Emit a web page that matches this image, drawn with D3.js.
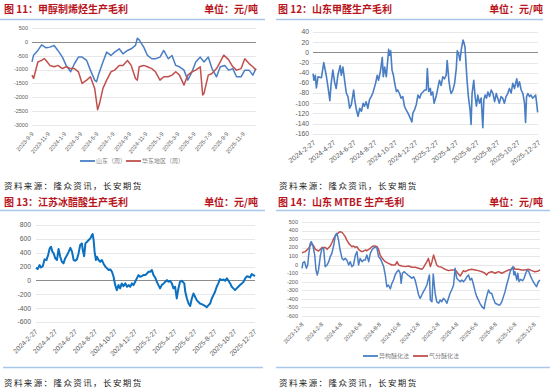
<!DOCTYPE html>
<html>
<head>
<meta charset="utf-8">
<script src="https://cdn.jsdelivr.net/npm/d3@7"></script>
<style>
body { margin: 0; background: #fff; }
text { font-family: "Liberation Sans", Arial, sans-serif; }
.cn { font-family: "Noto Sans CJK SC", sans-serif; }
</style>
</head>
<body>
<script>
// ---- chart 11: 甲醇制烯烃生产毛利 (weekly) ----
const mtoTicks = ["2023-9-9","2023-11-9","2024-1-9","2024-3-9","2024-5-9","2024-7-9","2024-9-9","2024-11-9","2025-1-9","2025-3-9","2025-5-9","2025-7-9","2025-9-9","2025-11-9"];
const mtoShandong = [
["2023-09-09",-720],["2023-09-15",-480],["2023-10-01",-310],["2023-10-15",-110],["2023-11-01",-215],["2023-11-15",-190],
["2023-12-01",-130],["2023-12-15",-310],["2024-01-01",-550],["2024-01-15",-850],["2024-02-01",-1080],["2024-02-15",-790],
["2024-03-01",-550],["2024-03-15",-550],["2024-04-01",-670],["2024-04-15",-1020],["2024-05-01",-1380],["2024-05-08",-1440],
["2024-05-15",-1200],["2024-06-01",-725],["2024-06-15",-370],["2024-07-01",-490],["2024-07-15",-370],["2024-08-01",-250],
["2024-08-15",-430],["2024-09-01",-310],["2024-09-15",-250],["2024-10-01",-130],["2024-10-08",130],["2024-10-15",70],
["2024-11-01",-190],["2024-11-15",-490],["2024-12-01",-610],["2024-12-15",-610],["2025-01-01",-550],["2025-01-15",-310],
["2025-02-01",-610],["2025-02-15",-490],["2025-03-01",-850],["2025-03-15",-900],["2025-04-01",-1020],["2025-04-15",-1380],
["2025-05-01",-1080],["2025-05-15",-725],["2025-06-01",-550],["2025-06-15",-725],["2025-07-01",-550],["2025-07-15",-965],
["2025-08-01",-1260],["2025-08-15",-900],["2025-09-01",-850],["2025-09-15",-1020],["2025-10-01",-965],["2025-10-15",-1260],
["2025-11-01",-1260],["2025-11-15",-1020],["2025-12-01",-1020],["2025-12-15",-1200],["2025-12-27",-965]
];
const mtoHuadong = [
["2023-09-09",-1200],["2023-09-15",-1320],["2023-10-01",-725],["2023-10-15",-670],["2023-10-25",-600],["2023-11-01",-670],
["2023-11-15",-850],["2023-12-01",-900],["2023-12-15",-850],["2024-01-01",-965],["2024-01-15",-900],["2024-02-01",-965],
["2024-02-15",-965],["2024-03-01",-1080],["2024-03-15",-1500],["2024-04-01",-1380],["2024-04-15",-1260],["2024-05-01",-1680],
["2024-05-12",-2450],["2024-05-20",-2200],["2024-06-01",-1680],["2024-06-15",-1380],["2024-07-01",-1080],["2024-07-15",-1020],
["2024-08-01",-850],["2024-08-15",-850],["2024-09-01",-670],["2024-09-15",-850],["2024-10-01",-1320],["2024-10-08",-1380],
["2024-10-15",-900],["2024-11-01",-850],["2024-11-15",-900],["2024-12-01",-965],["2024-12-15",-1080],["2025-01-01",-1380],
["2025-01-15",-1260],["2025-02-01",-1260],["2025-02-15",-1200],["2025-03-01",-1080],["2025-03-15",-1200],["2025-04-01",-1560],
["2025-04-15",-1200],["2025-05-01",-1080],["2025-05-15",-1020],["2025-06-01",-900],["2025-06-10",-1915],["2025-06-15",-1860],
["2025-07-01",-1200],["2025-07-15",-1140],["2025-08-01",-965],["2025-08-15",-725],["2025-08-28",-480],["2025-09-15",-640],
["2025-10-01",-900],["2025-10-15",-1020],["2025-11-01",-965],["2025-11-15",-610],["2025-12-01",-785],["2025-12-15",-900],
["2025-12-27",-1020]
];

// ---- chart 12: 山东甲醛生产毛利 ----
const hchoTicks = ["2024-2-27","2024-4-27","2024-6-27","2024-8-27","2024-10-27","2024-12-27","2025-2-27","2025-4-27","2025-6-27","2025-8-27","2025-10-27","2025-12-27"];
const hchoMargin = [
["2024-02-27",-42],["2024-03-01",-55],["2024-03-05",-45],["2024-03-08",-70],["2024-03-13",-48],["2024-03-23",-50],["2024-03-30",-20],
["2024-04-07",-48],["2024-04-12",-70],["2024-04-17",-95],["2024-04-21",-61],["2024-04-26",-35],["2024-05-01",-58],["2024-05-06",-71],
["2024-05-11",-45],["2024-05-18",-26],["2024-05-21",-45],["2024-05-26",-29],["2024-05-31",-55],["2024-06-05",-80],["2024-06-10",-87],
["2024-06-15",-110],["2024-06-20",-103],["2024-06-27",-74],["2024-06-30",-93],["2024-07-05",-113],["2024-07-10",-126],["2024-07-15",-110],
["2024-07-20",-116],["2024-07-25",-100],["2024-07-29",-106],["2024-08-03",-97],["2024-08-08",-110],["2024-08-13",-93],["2024-08-18",-87],
["2024-08-23",-80],["2024-08-31",-61],["2024-09-05",-45],["2024-09-09",-55],["2024-09-15",-35],["2024-09-20",-10],["2024-09-23",-48],
["2024-09-27",-29],["2024-10-02",-48],["2024-10-09",6],["2024-10-12",-6],["2024-10-15",3],["2024-10-19",-35],["2024-10-23",-45],
["2024-10-27",-61],["2024-11-01",-77],["2024-11-05",-74],["2024-11-10",-81],["2024-11-15",-90],["2024-11-20",-87],["2024-11-25",-106],
["2024-11-30",-113],["2024-12-05",-119],["2024-12-10",-126],["2024-12-17",-137],["2024-12-20",-119],["2024-12-25",-113],["2024-12-30",-103],
["2025-01-04",-84],["2025-01-09",-90],["2025-01-14",-81],["2025-01-19",-78],["2025-01-24",-74],["2025-01-29",-74],["2025-02-01",-32],
["2025-02-05",-77],["2025-02-10",-71],["2025-02-12",-84],["2025-02-17",-78],["2025-02-21",-100],["2025-02-27",-87],["2025-03-04",-71],
["2025-03-09",-55],["2025-03-14",-65],["2025-03-19",-48],["2025-03-24",-52],["2025-03-29",-45],["2025-04-01",-16],["2025-04-06",-55],
["2025-04-10",-74],["2025-04-13",-81],["2025-04-18",-74],["2025-04-23",-61],["2025-04-28",-32],["2025-05-01",3],["2025-05-05",-3],
["2025-05-09",-16],["2025-05-13",6],["2025-05-18",24],["2025-05-21",19],["2025-05-24",10],["2025-05-27",-23],["2025-05-30",-55],
["2025-06-03",-87],["2025-06-08",-113],["2025-06-11",-142],["2025-06-14",-81],["2025-06-19",-55],["2025-06-23",-87],["2025-06-27",-106],
["2025-07-01",-84],["2025-07-06",-100],["2025-07-11",-90],["2025-07-16",-148],["2025-07-19",-93],["2025-07-23",-84],["2025-07-27",-90],
["2025-07-31",-78],["2025-08-05",-87],["2025-08-10",-74],["2025-08-15",-81],["2025-08-20",-97],["2025-08-25",-81],["2025-08-29",-90],
["2025-09-03",-100],["2025-09-08",-87],["2025-09-13",-90],["2025-09-18",-100],["2025-09-23",-87],["2025-09-28",-81],["2025-10-03",-71],
["2025-10-08",-80],["2025-10-13",-61],["2025-10-18",-71],["2025-10-25",-52],["2025-10-28",-68],["2025-11-02",-58],["2025-11-07",-74],
["2025-11-12",-81],["2025-11-17",-100],["2025-11-20",-138],["2025-11-23",-87],["2025-11-27",-81],["2025-12-02",-87],["2025-12-06",-84],
["2025-12-11",-90],["2025-12-16",-87],["2025-12-20",-84],["2025-12-23",-100],["2025-12-26",-118]
];

// ---- chart 13: 江苏冰醋酸生产毛利 ----
const aceticTicks = ["2024-2-27","2024-4-27","2024-6-27","2024-8-27","2024-10-27","2024-12-27","2025-2-27","2025-4-27","2025-6-27","2025-8-27","2025-10-27","2025-12-27"];
const aceticMargin = [
["2024-02-27",183],["2024-03-03",164],["2024-03-09",222],["2024-03-13",188],["2024-03-19",207],["2024-03-24",304],["2024-03-30",294],
["2024-04-04",366],["2024-04-09",463],["2024-04-13",487],["2024-04-17",415],["2024-04-21",390],["2024-04-26",318],["2024-05-01",294],
["2024-05-06",455],["2024-05-11",342],["2024-05-16",270],["2024-05-21",246],["2024-05-26",318],["2024-06-01",366],["2024-06-06",415],
["2024-06-11",470],["2024-06-16",415],["2024-06-21",294],["2024-06-26",284],["2024-07-01",304],["2024-07-06",390],["2024-07-11",511],
["2024-07-16",535],["2024-07-19",439],["2024-07-23",350],["2024-07-27",535],["2024-08-01",559],["2024-08-06",583],["2024-08-11",607],
["2024-08-16",655],["2024-08-18",670],["2024-08-21",583],["2024-08-24",415],["2024-08-28",294],["2024-08-31",342],["2024-09-05",294],
["2024-09-10",270],["2024-09-15",294],["2024-09-20",246],["2024-09-26",198],["2024-10-01",174],["2024-10-06",150],["2024-10-11",159],
["2024-10-16",125],["2024-10-21",53],["2024-10-26",-67],["2024-10-31",-140],["2024-11-05",-67],["2024-11-10",-115],["2024-11-15",-43],
["2024-11-20",-82],["2024-11-26",-43],["2024-12-01",-92],["2024-12-06",-67],["2024-12-11",-92],["2024-12-16",-43],["2024-12-21",-67],
["2024-12-26",-19],["2024-12-31",29],["2025-01-05",77],["2025-01-10",53],["2025-01-15",63],["2025-01-20",77],["2025-01-26",77],
["2025-01-31",101],["2025-02-05",125],["2025-02-10",125],["2025-02-15",150],["2025-02-20",77],["2025-02-25",43],["2025-03-02",-19],
["2025-03-07",-67],["2025-03-12",-115],["2025-03-17",-67],["2025-03-23",-43],["2025-03-28",-19],["2025-04-02",5],["2025-04-07",-19],
["2025-04-12",-5],["2025-04-17",-43],["2025-04-22",-115],["2025-04-27",-92],["2025-05-02",-260],["2025-05-07",-115],["2025-05-12",-19],
["2025-05-17",-5],["2025-05-20",-19],["2025-05-25",-43],["2025-05-28",-164],["2025-06-02",-260],["2025-06-07",-333],["2025-06-12",-370],
["2025-06-17",-260],["2025-06-22",-188],["2025-06-27",-236],["2025-07-02",-284],["2025-07-07",-309],["2025-07-12",-333],["2025-07-17",-342],
["2025-07-23",-357],["2025-07-28",-371],["2025-08-02",-385],["2025-08-07",-357],["2025-08-12",-333],["2025-08-17",-260],["2025-08-22",-212],
["2025-08-27",-164],["2025-09-01",-92],["2025-09-06",-43],["2025-09-11",19],["2025-09-16",5],["2025-09-22",14],["2025-09-27",-5],
["2025-10-02",29],["2025-10-07",-5],["2025-10-12",-43],["2025-10-17",-92],["2025-10-22",-115],["2025-10-27",-140],["2025-11-01",-115],
["2025-11-06",-92],["2025-11-11",-67],["2025-11-17",-43],["2025-11-22",-19],["2025-11-27",29],["2025-12-02",60],["2025-12-07",53],
["2025-12-12",43],["2025-12-17",92],["2025-12-22",77],["2025-12-27",63]
];

// ---- chart 14: 山东 MTBE 生产毛利 ----
const mtbeTicks = ["2023-12-8","2024-2-8","2024-4-8","2024-6-8","2024-8-8","2024-10-8","2024-12-8","2025-2-8","2025-4-8","2025-6-8","2025-8-8","2025-10-8","2025-12-8"];
const mtbeIso = [
["2023-12-08",-44],["2023-12-11",23],["2023-12-16",34],["2023-12-22",-44],["2023-12-26",-5],["2023-12-29",112],["2024-01-03",249],
["2024-01-06",269],["2024-01-11",230],["2024-01-17",112],["2024-01-21",-63],["2024-01-25",-122],["2024-01-29",-63],["2024-02-04",112],
["2024-02-09",191],["2024-02-14",191],["2024-02-19",-24],["2024-02-25",-5],["2024-03-01",34],["2024-03-06",93],["2024-03-11",132],
["2024-03-17",230],["2024-03-22",347],["2024-03-27",367],["2024-04-01",288],["2024-04-06",171],["2024-04-12",73],["2024-04-17",54],
["2024-04-22",73],["2024-04-27",54],["2024-05-03",-5],["2024-05-08",34],["2024-05-13",-24],["2024-05-18",-5],["2024-05-24",112],
["2024-05-29",152],["2024-06-03",-5],["2024-06-08",73],["2024-06-14",34],["2024-06-19",54],["2024-06-24",54],["2024-06-29",112],
["2024-07-05",34],["2024-07-10",132],["2024-07-15",171],["2024-07-20",191],["2024-07-25",210],["2024-07-31",191],["2024-08-05",93],
["2024-08-10",73],["2024-08-15",34],["2024-08-21",-24],["2024-08-26",-122],["2024-08-31",-259],["2024-09-05",-240],["2024-09-11",-285],
["2024-09-16",-220],["2024-09-21",-181],["2024-09-26",-122],["2024-10-02",-83],["2024-10-07",-63],["2024-10-12",-102],["2024-10-15",-220],
["2024-10-19",-102],["2024-10-25",-83],["2024-10-30",-102],["2024-11-05",-122],["2024-11-12",-142],["2024-11-18",-161],["2024-11-23",-142],
["2024-11-28",-181],["2024-12-03",-259],["2024-12-09",-357],["2024-12-14",-396],["2024-12-19",-357],["2024-12-24",-318],["2024-12-30",-278],
["2025-01-04",-240],["2025-01-09",-161],["2025-01-12",-122],["2025-01-15",-415],["2025-01-20",-435],["2025-01-24",-110],["2025-01-30",-337],
["2025-02-04",-435],["2025-02-10",-454],["2025-02-15",-415],["2025-02-20",-435],["2025-02-25",-396],["2025-03-02",-415],["2025-03-08",-454],
["2025-03-13",-396],["2025-03-18",-337],["2025-03-23",-298],["2025-03-29",-240],["2025-04-03",-44],["2025-04-08",-161],["2025-04-13",-181],
["2025-04-19",-200],["2025-04-24",-181],["2025-04-29",-200],["2025-05-04",-181],["2025-05-10",-142],["2025-05-15",-122],["2025-05-20",-181],
["2025-05-25",-161],["2025-05-31",-240],["2025-06-05",-318],["2025-06-10",-376],["2025-06-15",-415],["2025-06-20",-454],["2025-06-26",-493],
["2025-07-03",-518],["2025-07-06",-454],["2025-07-11",-376],["2025-07-17",-298],["2025-07-22",-337],["2025-07-27",-337],["2025-08-01",-396],
["2025-08-07",-454],["2025-08-12",-462],["2025-08-17",-474],["2025-08-22",-474],["2025-08-28",-435],["2025-09-02",-376],["2025-09-07",-318],
["2025-09-12",-240],["2025-09-18",-161],["2025-09-23",-83],["2025-09-28",-44],["2025-10-02",-24],["2025-10-05",-122],["2025-10-08",-83],
["2025-10-14",-181],["2025-10-17",-102],["2025-10-21",-200],["2025-10-26",-173],["2025-11-01",-190],["2025-11-06",-161],["2025-11-11",-102],
["2025-11-16",-63],["2025-11-21",-83],["2025-11-27",-142],["2025-12-02",-181],["2025-12-08",-220],["2025-12-15",-259],["2025-12-21",-200],
["2025-12-26",-181]
];
const mtbeGas = [
["2023-12-08",140],["2023-12-18",152],["2023-12-29",191],["2024-01-03",230],["2024-01-08",241],["2024-01-14",218],["2024-01-19",179],
["2024-01-29",160],["2024-02-04",179],["2024-02-09",202],["2024-02-19",202],["2024-02-25",179],["2024-03-06",218],["2024-03-11",257],
["2024-03-17",308],["2024-03-22",335],["2024-03-27",355],["2024-04-01",374],["2024-04-06",386],["2024-04-12",378],["2024-04-17",355],
["2024-04-22",328],["2024-04-27",288],["2024-05-03",249],["2024-05-08",230],["2024-05-13",210],["2024-05-18",218],["2024-05-24",202],
["2024-05-29",210],["2024-06-03",179],["2024-06-08",163],["2024-06-14",152],["2024-06-19",160],["2024-06-24",171],["2024-06-29",163],
["2024-07-05",179],["2024-07-10",191],["2024-07-15",210],["2024-07-20",218],["2024-07-25",218],["2024-07-31",210],["2024-08-05",179],
["2024-08-10",112],["2024-08-15",81],["2024-08-21",54],["2024-08-26",34],["2024-09-05",15],["2024-09-16",-5],["2024-09-26",-5],
["2024-10-02",34],["2024-10-07",-5],["2024-10-17",-16],["2024-10-28",-24],["2024-11-07",-16],["2024-11-18",-32],["2024-11-28",-32],
["2024-12-09",-44],["2024-12-19",-55],["2024-12-24",-36],["2025-01-04",34],["2025-01-09",73],["2025-01-15",-24],["2025-01-20",34],
["2025-01-25",112],["2025-01-30",54],["2025-02-04",-5],["2025-02-10",-24],["2025-02-20",-32],["2025-03-02",-55],["2025-03-13",-71],
["2025-03-23",-63],["2025-04-03",-63],["2025-04-08",-83],["2025-04-13",-110],["2025-04-19",-134],["2025-04-24",-102],["2025-04-29",-71],
["2025-05-04",-83],["2025-05-15",-63],["2025-05-25",-55],["2025-06-05",-63],["2025-06-15",-71],["2025-06-26",-83],["2025-07-06",-102],
["2025-07-11",-122],["2025-07-17",-94],["2025-07-27",-83],["2025-08-07",-102],["2025-08-17",-83],["2025-08-28",-102],["2025-09-07",-83],
["2025-09-18",-63],["2025-09-28",-55],["2025-10-05",-32],["2025-10-08",-55],["2025-10-19",-55],["2025-10-29",-63],["2025-11-09",-63],
["2025-11-19",-55],["2025-11-30",-71],["2025-12-10",-83],["2025-12-21",-75],["2025-12-26",-63]
];

const parse = d3.timeParse("%Y-%m-%d");
const svg = d3.select("body").append("svg").attr("width", 550).attr("height", 391);

function header(tx, ty, title, unitX) {
    svg.append("text").attr("class", "cn").attr("x", tx).attr("y", ty)
        .attr("font-size", 10).attr("font-weight", 700).attr("fill", "#b8141c").text(title);
    svg.append("text").attr("class", "cn").attr("x", unitX).attr("y", ty)
        .attr("text-anchor", "end").attr("font-size", 10).attr("font-weight", 700).attr("fill", "#b8141c").text("单位：元/吨");
}
function hline(x1, x2, yy) {
    svg.append("line").attr("x1", x1).attr("x2", x2).attr("y1", yy).attr("y2", yy)
        .attr("stroke", "#a8c7ea").attr("stroke-width", 1.5);
}
function source(tx, ty) {
    svg.append("text").attr("class", "cn").attr("x", tx).attr("y", ty)
        .attr("font-size", 8.5).attr("letter-spacing", 1.4).attr("fill", "#222")
        .text("资料来源：隆众资讯，长安期货");
}

function drawChart(o) {
    const x = d3.scaleTime().domain(o.xDomain.map(parse)).range([o.left, o.right]);
    const y = d3.scaleLinear().domain(o.yDomain).range([o.bottom, o.top]);
    const g = svg.append("g");

    g.selectAll(".grid").data(y.ticks(o.nTicks)).join("line")
        .attr("x1", o.left).attr("x2", o.right)
        .attr("y1", d => Math.round(y(d)) + 0.5).attr("y2", d => Math.round(y(d)) + 0.5)
        .attr("stroke", d => (d === 0 && o.darkZero) ? "#8c8c8c" : "#e0e0e0")
        .attr("stroke-width", d => (d === 0 && o.darkZero) ? 1 : 0.75);

    g.selectAll(".ylab").data(y.ticks(o.nTicks)).join("text")
        .attr("x", o.left - o.yLabGap).attr("y", d => y(d)).attr("dy", "0.35em")
        .attr("text-anchor", "end").attr("font-size", o.yFont).attr("fill", "#595959")
        .text(d => d);

    g.selectAll(".xlab").data(o.ticks).join("text")
        .attr("text-anchor", "end").attr("font-size", o.xFont).attr("fill", "#595959")
        .attr("transform", d => `translate(${x(parse(d)) + o.xLabDx},${o.bottom + o.xLabDy}) rotate(${o.angle})`)
        .text(d => d);

    const line = d3.line().x(d => x(parse(d[0]))).y(d => y(d[1]));
    o.series.forEach(s => {
        g.append("path").attr("d", line(s.data)).attr("fill", "none")
            .attr("stroke", s.color).attr("stroke-width", s.width)
            .attr("stroke-linejoin", "round");
    });

    if (o.legend) {
        const lg = g.append("g");
        o.legend.forEach(l => {
            lg.append("line").attr("x1", l.x).attr("x2", l.x + 15).attr("y1", o.legendY).attr("y2", o.legendY)
                .attr("stroke", l.color).attr("stroke-width", 1.8);
            lg.append("text").attr("class", "cn").attr("x", l.x + 16).attr("y", o.legendY).attr("dy", "0.35em")
                .attr("font-size", 6).attr("fill", "#7f7f7f").text(l.name);
        });
    }
}

// headers, rules and sources
header(4, 12.5, "图 11：甲醇制烯烃生产毛利", 258);
header(278, 12.5, "图 12：山东甲醛生产毛利", 543);
header(4, 206, "图 13：江苏冰醋酸生产毛利", 258);
header(278, 206, "图 14：山东 MTBE 生产毛利", 543);
hline(0, 265, 19.5); hline(276, 543, 19.5);
hline(0, 265, 210.5); hline(276, 550, 210.5);
hline(3, 263, 367.5); hline(276, 550, 367.5);
source(4, 189); source(279, 189);
source(4, 386); source(279, 386);

drawChart({
    left: 32, right: 256, top: 28, bottom: 125,
    xDomain: ["2023-09-09", "2025-12-27"], yDomain: [-3000, 500], nTicks: 7,
    darkZero: true, yLabGap: 4, yFont: 5.5, xFont: 5.8, angle: -50, xLabDx: 2, xLabDy: 9,
    ticks: mtoTicks,
    series: [{data: mtoShandong, color: "#4a7ec4", width: 1.5}, {data: mtoHuadong, color: "#c0504d", width: 1.5}],
    legendY: 161,
    legend: [{x: 80, color: "#4a7ec4", name: "山东（周）"}, {x: 126, color: "#c0504d", name: "华东地区（周）"}]
});

drawChart({
    left: 313, right: 538, top: 32, bottom: 133.7,
    xDomain: ["2024-02-27", "2025-12-27"], yDomain: [-160, 40], nTicks: 10,
    darkZero: true, yLabGap: 4, yFont: 6.8, xFont: 7, angle: -38, xLabDx: 3, xLabDy: 10,
    ticks: hchoTicks,
    series: [{data: hchoMargin, color: "#4a7ec4", width: 1.6}]
});

drawChart({
    left: 36, right: 255, top: 225, bottom: 322,
    xDomain: ["2024-02-27", "2025-12-27"], yDomain: [-600, 800], nTicks: 7,
    darkZero: true, yLabGap: 5, yFont: 6.8, xFont: 6.8, angle: -45, xLabDx: 2, xLabDy: 10,
    ticks: aceticTicks,
    series: [{data: aceticMargin, color: "#0b70c0", width: 2}]
});

drawChart({
    left: 302, right: 540, top: 222, bottom: 315.7,
    xDomain: ["2023-12-08", "2025-12-26"], yDomain: [-600, 500], nTicks: 11,
    darkZero: false, yLabGap: 4, yFont: 5.5, xFont: 5.8, angle: -47, xLabDx: 2, xLabDy: 9,
    ticks: mtbeTicks,
    series: [{data: mtbeGas, color: "#c0504d", width: 1.5}, {data: mtbeIso, color: "#4a7ec4", width: 1.5}],
    legendY: 356,
    legend: [{x: 363, color: "#4a7ec4", name: "异构醚化法"}, {x: 413, color: "#c0504d", name: "气分醚化法"}]
});
</script>
</body>
</html>
